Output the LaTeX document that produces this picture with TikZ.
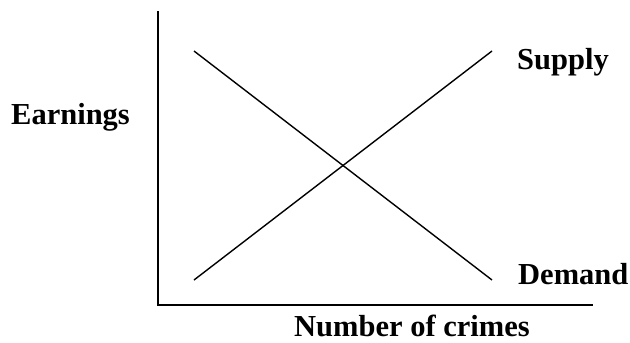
\documentclass[tikz,border=0pt]{standalone}
\usepackage{fontspec}
\setmainfont{Liberation Serif}
\begin{document}
\begin{tikzpicture}[x=1pt,y=-1pt,
  lbl/.style={font=\fontsize{30.5}{34}\selectfont\bfseries, inner sep=0pt, anchor=base west},
  axis/.style={line width=2pt},
  curve/.style={line width=1.4pt}]
\useasboundingbox (0,0) rectangle (630,343);
\coordinate (top) at (158,11);
\coordinate (origin) at (158,305);
\coordinate (right) at (593,305);
\draw[axis] (top) -- (origin) -- (right);
\coordinate (s0) at (194,280);
\coordinate (s1) at (492,51);
\coordinate (d0) at (194,51);
\coordinate (d1) at (492,280);
\draw[curve] (s0) -- (s1);
\draw[curve] (d0) -- (d1);
\node[lbl] (supply) at (517,69) {Supply};
\node[lbl] (demand) at (518,284) {Demand};
\node[lbl] (earnings) at (11,124) {Earnings};
\node[lbl] (crimes) at (294,336) {Number of crimes};
\end{tikzpicture}
\end{document}
